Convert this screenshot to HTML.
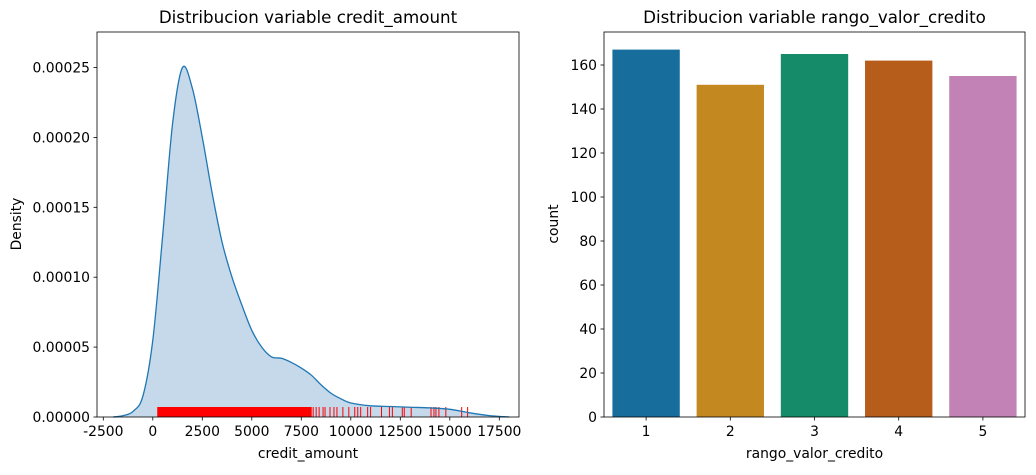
<!DOCTYPE html>
<html><head><meta charset="utf-8"><style>
body{margin:0;background:#fff;font-family:"Liberation Sans","DejaVu Sans",sans-serif;}
svg text{font-family:"DejaVu Sans","Liberation Sans",sans-serif;fill:#000;}
</style></head><body>
<svg id="c" width="1036" height="470" xmlns="http://www.w3.org/2000/svg"></svg>
<script>
const kdeX=[-2000,-1500,-1000,-500,0,500,1000,1500,2000,2500,3000,3500,4000,4500,5000,5500,6000,6500,7000,7500,8000,8500,9000,9500,10000,11000,12000,13000,14000,15000,16000,17000,18000];
const kdeY=[0,0.000001,0.000004,0.000015,0.000055,0.00013,0.00021,0.00025,0.000235,0.0002,0.00016,0.000125,0.0001,0.00008,0.000062,0.00005,0.000043,0.000042,0.000039,0.000035,0.00003,0.000023,0.000017,0.000013,0.00001,0.000008,0.0000075,0.000007,0.0000065,0.0000055,0.000003,0.000001,0];
const rugVals=[];
for(let v=250;v<=8000;v+=25) rugVals.push(v);
const rugSparse=[8100,8250,8400,8600,8700,8950,9150,9300,9600,9900,10200,10350,10500,10850,11000,11550,11950,12100,12600,12700,13050,14050,14200,14300,14450,14800,15600,15900];
const xTicks=[-2500,0,2500,5000,7500,10000,12500,15000,17500];
const yTicks=[0,0.00005,0.0001,0.00015,0.0002,0.00025];
const yTickLabels=["0.00000","0.00005","0.00010","0.00015","0.00020","0.00025"];
const cats=["1","2","3","4","5"];
const counts=[167,151,165,162,155];
const countTicks=[0,20,40,60,80,100,120,140,160];
const barColors=["#176d9c","#c38820","#158b6a","#b75d1c","#c282b5"];

const svg=document.getElementById('c');
const NS="http://www.w3.org/2000/svg";
const FS=13.9, TFS=16.7;
function el(tag,attrs,parent){const e=document.createElementNS(NS,tag);for(const k in attrs)e.setAttribute(k,attrs[k]);(parent||svg).appendChild(e);return e;}
function txt(s,attrs,name){const t=el('text',attrs);t.textContent=s;


return t;}
function smooth(pts){let s="M"+pts[0][0]+","+pts[0][1];
for(let i=0;i<pts.length-1;i++){const p0=pts[Math.max(0,i-1)],p1=pts[i],p2=pts[i+1],p3=pts[Math.min(pts.length-1,i+2)];
const c1=[p1[0]+(p2[0]-p0[0])/6,p1[1]+(p2[1]-p0[1])/6],c2=[p2[0]-(p3[0]-p1[0])/6,p2[1]-(p3[1]-p1[1])/6];
s+=" C"+c1[0]+","+c1[1]+" "+c2[0]+","+c2[1]+" "+p2[0]+","+p2[1];}
return s;}

const L={x0:97,x1:519,y0:32,y1:417};
const lx=v=>152.8+v*49.5/2500;
const ly=v=>417-v*69.9/0.00005;
const pts=kdeX.map((x,i)=>[lx(x),ly(kdeY[i])]);
const line=smooth(pts);
const area=el('path',{d:line+" Z",fill:"#c5d9ea",stroke:"none"});


const rg=el('g',{stroke:"#ff0000","stroke-width":1});


rugVals.concat(rugSparse).forEach(v=>{const r=el('line',{x1:lx(v),x2:lx(v),y1:407,y2:417},rg);

});
const kl=el('path',{d:line,fill:"none",stroke:"#1f77b4","stroke-width":1.3,"stroke-linejoin":"round"});


const lf=el('rect',{x:L.x0,y:L.y0,width:L.x1-L.x0,height:L.y1-L.y0,fill:"none",stroke:"#000","stroke-width":0.8});


xTicks.forEach(v=>{el('line',{x1:lx(v),x2:lx(v),y1:417,y2:420.5,stroke:"#000","stroke-width":0.8});
txt(String(v),{x:lx(v),y:436,"font-size":FS,"text-anchor":"middle"},'x-tick-label');});
yTicks.forEach((v,i)=>{el('line',{x1:93.5,x2:97,y1:ly(v),y2:ly(v),stroke:"#000","stroke-width":0.8});
txt(yTickLabels[i],{x:90,y:ly(v)+5,"font-size":FS,"text-anchor":"end"},'y-tick-label');});
txt("credit_amount",{x:308,y:458,"font-size":FS,"text-anchor":"middle"},'x-axis-title');
txt("Density",{x:21,y:224,"font-size":FS,"text-anchor":"middle",transform:"rotate(-90 21 224)"},'y-axis-title');
txt("Distribucion variable credit_amount",{x:308,y:23,"font-size":TFS,"text-anchor":"middle"},'left-chart-title');

const R={x0:604,x1:1025,y0:32,y1:417};
const step=(R.x1-R.x0)/cats.length;
const rx=i=>R.x0+step*(i+0.5);
const ry=v=>417-v*44/20;
cats.forEach((c,i)=>{const b=el('rect',{x:rx(i)-step*0.4,y:ry(counts[i]),width:step*0.8,height:417-ry(counts[i]),fill:barColors[i]});


el('line',{x1:rx(i),x2:rx(i),y1:417,y2:420.5,stroke:"#000","stroke-width":0.8});
txt(c,{x:rx(i),y:436,"font-size":FS,"text-anchor":"middle"},'x-tick-label');});
const rf=el('rect',{x:R.x0,y:R.y0,width:R.x1-R.x0,height:R.y1-R.y0,fill:"none",stroke:"#000","stroke-width":0.8});


countTicks.forEach(v=>{el('line',{x1:600.5,x2:604,y1:ry(v),y2:ry(v),stroke:"#000","stroke-width":0.8});
txt(String(v),{x:597,y:ry(v)+5,"font-size":FS,"text-anchor":"end"},'y-tick-label');});
txt("rango_valor_credito",{x:814.5,y:458,"font-size":FS,"text-anchor":"middle"},'x-axis-title');
txt("count",{x:558,y:224,"font-size":FS,"text-anchor":"middle",transform:"rotate(-90 558 224)"},'y-axis-title');
txt("Distribucion variable rango_valor_credito",{x:814.5,y:23,"font-size":TFS,"text-anchor":"middle"},'right-chart-title');
</script>
</body></html>
